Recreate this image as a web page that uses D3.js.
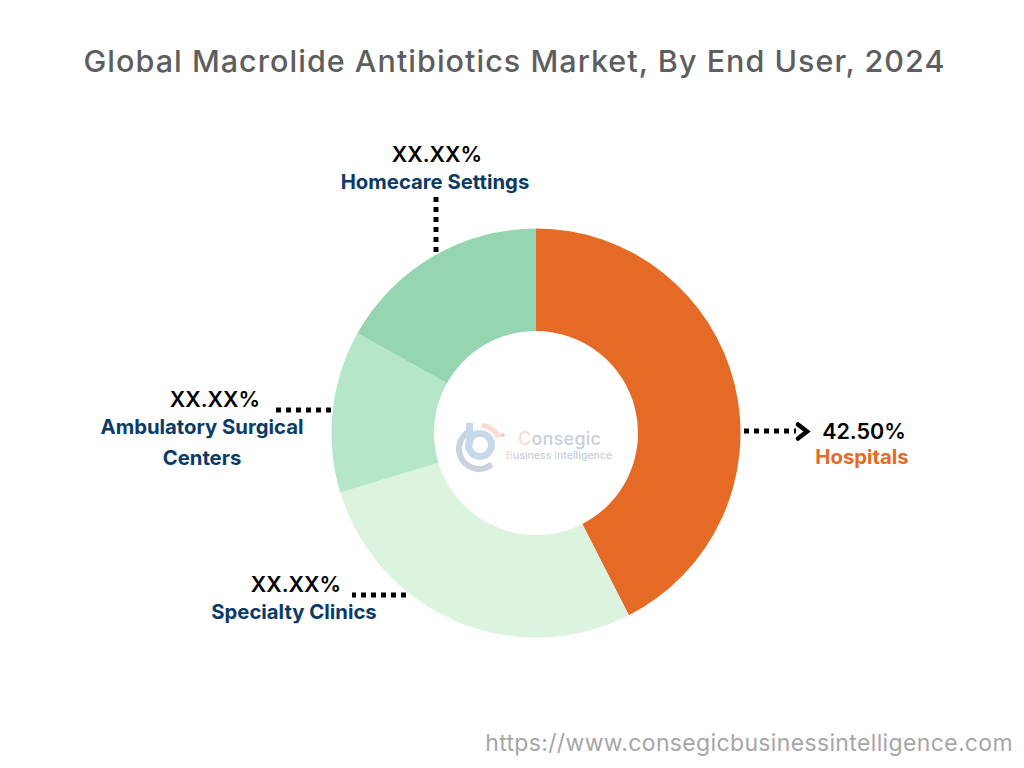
<!DOCTYPE html>
<html><head><meta charset="utf-8">
<script src="https://cdn.jsdelivr.net/npm/d3@7"></script>
<style>html,body{margin:0;padding:0;background:#fff}svg{display:block}text{font-family:Inter,sans-serif}</style>
</head><body><svg id="c" width="1024" height="768"></svg>
<script>
const categories=["Hospitals","Specialty Clinics","Ambulatory Surgical Centers","Homecare Settings"];
const shares=[42.5,27.8,12.8,16.9];
const colors=["#e56a26","#dbf3df","#b6e6c9","#95d5b2"];
const valueLabels=["42.50%","XX.XX%","XX.XX%","XX.XX%"];
const title="Global Macrolide Antibiotics Market, By End User, 2024";
const sourceUrl="https://www.consegicbusinessintelligence.com";

const svg=d3.select("#c");
svg.append("rect").attr("width",1024).attr("height",768).attr("fill","#fff");
svg.append("text").attr("x",514.5).attr("y",72).attr("text-anchor","middle").attr("font-size",30.5).attr("font-weight",500).attr("letter-spacing",1.03).attr("fill","#5e5e5e").text(title);

const cx=536,cy=433;
const pie=d3.pie().sort(null).value(d=>d)(shares);
const arc=d3.arc().innerRadius(102).outerRadius(204.5);
const g=svg.append("g").attr("transform",`translate(${cx},${cy})`);
g.selectAll("path").data(pie).join("path").attr("d",arc).attr("fill",(d,i)=>colors[i]);

// leader lines
const dots=[[744,431,796,431],[406,595,352,595],[331,410,276,410],[436,252,436,197]];
svg.selectAll("line.lead").data(dots).join("line").attr("class","lead")
 .attr("x1",d=>d[0]).attr("y1",d=>d[1]).attr("x2",d=>d[2]).attr("y2",d=>d[3])
 .attr("stroke","#000").attr("stroke-width",5).attr("stroke-dasharray","5 5");
svg.append("path").attr("d","M798 424.5L807 431.5L798 438.5").attr("fill","none").attr("stroke","#000").attr("stroke-width",4.5).attr("stroke-linecap","round").attr("stroke-linejoin","miter");

// labels
const navy="#0b3a67",orange="#e56a26";
const valuePos=[[864,439],[296,592],[215,407],[437,162]];
svg.selectAll("text.val").data(valueLabels).join("text").attr("class","val")
 .attr("x",(d,i)=>valuePos[i][0]).attr("y",(d,i)=>valuePos[i][1]).attr("text-anchor","middle")
 .attr("font-size",21.5).attr("font-weight",600).attr("fill","#000").text(d=>d);
const catLines=[[["Hospitals",862,463.5]],[["Specialty Clinics",294,619]],[["Ambulatory Surgical",202,434],["Centers",202,465]],[["Homecare Settings",435,188.5]]];
catLines.forEach((ls,i)=>ls.forEach(l=>svg.append("text").attr("x",l[1]).attr("y",l[2]).attr("text-anchor","middle")
 .attr("font-size",20.3).attr("font-weight",700).attr("fill",i==0?orange:navy).text(l[0])));

// watermark logo
const logo=svg.append("g").attr("opacity",.5);
const la=(r0,r1,a,b,fill,x,y)=>logo.append("path").attr("transform",`translate(${x},${y})`).attr("d",d3.arc().innerRadius(r0).outerRadius(r1).startAngle(a).endAngle(b)()).attr("fill",fill);
la(17,23,Math.PI*.78,Math.PI*1.85,"#9aa6bd",479,449);
la(8,15,0,Math.PI*2,"#8fb5d6",480,445);
logo.append("rect").attr("x",466).attr("y",423).attr("width",7).attr("height",22).attr("fill","#8fb5d6");
la(18,23,Math.PI*.03,Math.PI*.36,"#f2b89c",480,446);
logo.append("circle").attr("cx",502.7).attr("cy",435).attr("r",2.2).attr("fill","#ee9a70");
const t1=logo.append("text").attr("x",518).attr("y",445).attr("font-size",18).attr("font-weight",500).attr("letter-spacing",.25).attr("fill","#8fa0b8");
t1.append("tspan").attr("fill","#f2b89c").text("C"); t1.append("tspan").text("onsegic");
const t2=logo.append("text").attr("x",506).attr("y",459).attr("font-size",10.5).attr("font-weight",500).attr("fill","#8fa0b8");
t2.append("tspan").attr("fill","#f2b89c").text("B"); t2.append("tspan").text("usiness ");
t2.append("tspan").attr("fill","#f2b89c").text("I"); t2.append("tspan").text("ntelligence");

svg.append("text").attr("x",1013).attr("y",751).attr("text-anchor","end").attr("font-size",23).attr("letter-spacing",.35).attr("fill","#a6a6a6").text(sourceUrl);
</script></body></html>
